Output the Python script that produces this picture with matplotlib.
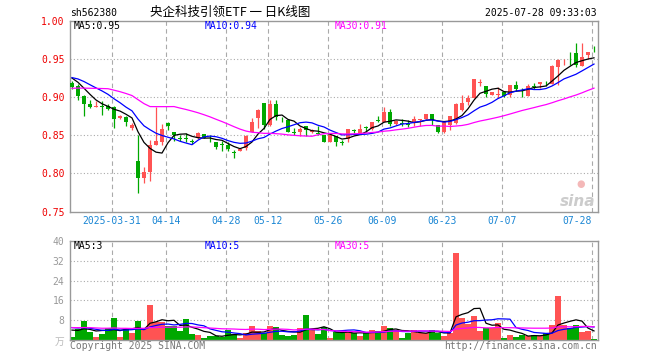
import numpy as np
import matplotlib.pyplot as plt

plt.rcParams['font.family'] = ['DejaVu Sans Mono']

# daily candles, 2025-03-20 .. 2025-07-28 (88 trading days)
opens = [0.919, 0.915, 0.902, 0.891, 0.888, 0.889, 0.889, 0.888, 0.873, 0.874,
         0.860, 0.817, 0.794, 0.802, 0.837, 0.842, 0.866, 0.854, 0.846, 0.846,
         0.843, 0.846, 0.852, 0.847, 0.841, 0.838, 0.838, 0.828, 0.830, 0.834,
         0.854, 0.873, 0.892, 0.864, 0.891, 0.872, 0.870, 0.854, 0.854, 0.863,
         0.855, 0.853, 0.850, 0.842, 0.849, 0.841, 0.845, 0.857, 0.852, 0.861,
         0.859, 0.870, 0.867, 0.881, 0.865, 0.866, 0.865, 0.867, 0.870, 0.871,
         0.878, 0.864, 0.855, 0.864, 0.866, 0.883, 0.894, 0.899, 0.919, 0.915,
         0.903, 0.903, 0.907, 0.903, 0.916, 0.910, 0.902, 0.915, 0.917, 0.918,
         0.917, 0.940, 0.950, 0.947, 0.958, 0.941, 0.956, 0.960]
highs = [0.921, 0.917, 0.903, 0.897, 0.895, 0.895, 0.891, 0.889, 0.877, 0.876,
         0.866, 0.850, 0.809, 0.844, 0.888, 0.865, 0.867, 0.855, 0.850, 0.853,
         0.845, 0.854, 0.852, 0.851, 0.842, 0.843, 0.841, 0.831, 0.832, 0.850,
         0.873, 0.885, 0.893, 0.896, 0.896, 0.874, 0.872, 0.860, 0.861, 0.863,
         0.858, 0.862, 0.850, 0.852, 0.849, 0.844, 0.858, 0.859, 0.865, 0.863,
         0.868, 0.876, 0.888, 0.885, 0.870, 0.871, 0.870, 0.875, 0.871, 0.878,
         0.878, 0.864, 0.867, 0.876, 0.893, 0.903, 0.903, 0.924, 0.924, 0.915,
         0.907, 0.914, 0.907, 0.916, 0.922, 0.912, 0.917, 0.919, 0.920, 0.922,
         0.942, 0.951, 0.951, 0.959, 0.971, 0.971, 0.960, 0.968]
lows = [0.911, 0.896, 0.876, 0.886, 0.888, 0.877, 0.884, 0.860, 0.872, 0.862,
        0.857, 0.774, 0.788, 0.790, 0.837, 0.838, 0.857, 0.843, 0.843, 0.842,
        0.839, 0.845, 0.846, 0.842, 0.832, 0.830, 0.830, 0.820, 0.830, 0.831,
        0.854, 0.860, 0.859, 0.863, 0.870, 0.868, 0.854, 0.851, 0.849, 0.849,
        0.853, 0.851, 0.841, 0.841, 0.836, 0.837, 0.841, 0.853, 0.852, 0.854,
        0.857, 0.867, 0.867, 0.862, 0.864, 0.862, 0.861, 0.862, 0.862, 0.871,
        0.864, 0.853, 0.853, 0.857, 0.865, 0.882, 0.890, 0.899, 0.915, 0.900,
        0.903, 0.899, 0.901, 0.901, 0.908, 0.901, 0.902, 0.911, 0.912, 0.915,
        0.917, 0.916, 0.942, 0.942, 0.940, 0.941, 0.951, 0.959]
closes = [0.913, 0.902, 0.891, 0.888, 0.889, 0.888, 0.885, 0.872, 0.876, 0.868,
          0.864, 0.794, 0.802, 0.837, 0.843, 0.858, 0.862, 0.850, 0.845, 0.845,
          0.842, 0.853, 0.847, 0.846, 0.835, 0.837, 0.832, 0.827, 0.832, 0.849,
          0.867, 0.884, 0.864, 0.891, 0.874, 0.871, 0.855, 0.853, 0.859, 0.857,
          0.857, 0.852, 0.842, 0.850, 0.842, 0.840, 0.858, 0.856, 0.859, 0.860,
          0.868, 0.869, 0.881, 0.865, 0.869, 0.865, 0.864, 0.871, 0.871, 0.878,
          0.870, 0.855, 0.867, 0.875, 0.891, 0.893, 0.899, 0.924, 0.920, 0.904,
          0.907, 0.905, 0.902, 0.916, 0.911, 0.909, 0.915, 0.914, 0.920, 0.917,
          0.941, 0.949, 0.951, 0.946, 0.942, 0.953, 0.960, 0.959]
# volume, 万手
volumes = [1.5, 4.5, 7.7, 3.5, 1.5, 2.5, 4.8, 9.1, 1.5, 4.5,
           3.1, 7.7, 4.8, 14.1, 7.5, 7.2, 5.7, 5.7, 3.7, 8.5,
           2.5, 2.1, 1.1, 1.7, 1.7, 1.5, 4.1, 2.5, 1.1, 3.1,
           5.7, 3.7, 3.1, 5.7, 5.3, 2.1, 1.7, 2.1, 5.1, 10.1,
           4.1, 2.7, 5.2, 1.1, 3.5, 3.1, 3.7, 3.1, 1.7, 3.1,
           4.1, 3.7, 5.7, 5.1, 4.1, 1.1, 3.1, 4.1, 3.1, 2.8,
           4.1, 3.1, 1.7, 3.1, 35.1, 9.1, 6.5, 9.9, 3.7, 5.1,
           5.1, 7.1, 1.1, 2.1, 1.5, 2.1, 1.7, 2.1, 1.7, 3.1,
           6.1, 17.7, 6.1, 5.1, 6.1, 3.5, 3.7, 0.4]

# the 29 sessions before the window, only needed to start the moving averages
prior_closes = [0.893, 0.892, 0.894, 0.893, 0.894, 0.892, 0.930, 0.935, 0.940, 0.945,
                0.955, 0.960, 0.953, 0.845, 0.858, 0.862, 0.847, 0.905, 0.900, 0.904,
                0.920, 0.925, 0.930, 0.930, 0.928, 0.930, 0.930, 0.928, 0.926]
prior_volumes = [5.0, 6.2, 4.8, 5.5, 5.9, 4.6, 5.3, 6.0, 4.9, 5.1,
                 5.6, 4.7, 5.4, 5.8, 4.5, 5.2, 5.0, 5.3, 4.2, 3.0,
                 6.0, 6.3, 6.0, 5.8, 6.4, 5.2, 4.3, 4.8, 4.7]

tick_idx = [7, 16, 26, 33, 43, 52, 62, 72, 87]
tick_labels = ['2025-03-31', '04-14', '04-28', '05-12', '05-26',
               '06-09', '06-23', '07-07', '07-28']

RED = '#ff5353'
GREEN = '#00a800'
GRID = '#aaaaaa'
FRAME = '#999999'
W, H = 660, 360


def moving_avg(vals, prior, n):
    full = np.concatenate([prior, vals])
    out = np.convolve(full, np.ones(n) / n, mode='valid')
    return out[-len(vals):]


def fx(px):
    return px / W


def fy(py):
    return 1 - py / H


o = np.array(opens)
c = np.array(closes)
v = np.array(volumes)
x = np.arange(len(c))
cols = np.where(c >= o, RED, GREEN)

ma_p = [moving_avg(c, prior_closes, n) for n in (5, 10, 30)]
ma_v = [moving_avg(v, prior_volumes, n) for n in (5, 10, 30)]
ma_cols = ['black', '#0000ff', '#ff00ff']

fig = plt.figure(figsize=(6.6, 3.6), dpi=100)
ax = fig.add_axes([fx(70), fy(211.5), fx(597.5) - fx(70), (211.5 - 21.3) / H])
axv = fig.add_axes([fx(70), fy(340.3), fx(597.5) - fx(70), (340.3 - 240.7) / H])

xlim = (-1 / 3, 87 + 3.5 / 6)

# price panel
for lvl in [0.80, 0.85, 0.90, 0.95]:
    ax.axhline(lvl, color=GRID, lw=0.8, ls=(0, (1, 2)), zorder=0)
for t in tick_idx:
    ax.axvline(t - 1 / 3, color=GRID, lw=0.8, ls=(0, (4, 3)), zorder=0)

ax.vlines(x, lows, highs, colors=cols, lw=0.9, zorder=2)
body_h = np.maximum(np.abs(c - o), 0.0011)
ax.bar(x, body_h, bottom=np.minimum(o, c), width=0.78, color=cols, lw=0, zorder=3)
for m, col in zip(ma_p, ma_cols):
    ax.plot(x, m, color=col, lw=0.9, zorder=4)

ax.set_xlim(*xlim)
ax.set_ylim(0.75, 1.00)
ax.set_xticks([])
ax.set_yticks([0.75, 0.80, 0.85, 0.90, 0.95, 1.00])
ax.set_yticklabels(['%.2f' % t for t in [0.75, 0.80, 0.85, 0.90, 0.95, 1.00]],
                   color='#ee0000', fontsize=7)
ax.tick_params(axis='y', length=0, pad=4)

for t, lab in zip(tick_idx, tick_labels):
    ha = 'right' if t == tick_idx[-1] else 'center'
    ax.text(t - 1 / 3, -0.05, lab, transform=ax.get_xaxis_transform(),
            ha=ha, va='center', fontsize=7, color='#1a86d4')

# volume panel
for lvl in [8, 16, 24, 32]:
    axv.axhline(lvl, color=GRID, lw=0.8, ls=(0, (1, 2)), zorder=0)
for t in tick_idx:
    axv.axvline(t - 1 / 3, color=GRID, lw=0.8, ls=(0, (4, 3)), zorder=0)

axv.bar(x, v, width=0.85, color=cols, lw=0, zorder=2)
for m, col in zip(ma_v, ma_cols):
    axv.plot(x, m, color=col, lw=0.9, zorder=4)

axv.set_xlim(*xlim)
axv.set_ylim(0, 40)
axv.set_xticks([])
axv.set_yticks([8, 16, 24, 32, 40])
axv.set_yticklabels(['8', '16', '24', '32', '40'], color='#999999', fontsize=7)
axv.tick_params(axis='y', length=0, pad=4)

for a in (ax, axv):
    for s in a.spines.values():
        s.set_color(FRAME)
        s.set_linewidth(1)

# texts
fig.text(fx(70), fy(13), 'sh562380', fontsize=7, va='center', ha='left')
fig.text(fx(150), fy(12), '央企科技引领ETF 一 日K线图', fontsize=9, va='center', ha='left',
         family=['Noto Sans CJK SC', 'DejaVu Sans'])
fig.text(fx(597), fy(13), '2025-07-28 09:33:03', fontsize=7, va='center', ha='right')

pos = [74, 205, 335]
names = ['MA5', 'MA10', 'MA30']
for px, name, m, col in zip(pos, names, ma_p, ma_cols):
    fig.text(fx(px), fy(26), '%s:%.2f' % (name, m[-1]), fontsize=7, color=col, va='center')
for px, name, m, col in zip(pos, names, ma_v, ma_cols):
    fig.text(fx(px), fy(246), '%s:%d' % (name, int(m[-1])), fontsize=7, color=col, va='center')

fig.text(fx(64), fy(342), '万', fontsize=7, color='#bbbbbb', va='center', ha='right',
         family=['Noto Sans CJK SC', 'DejaVu Sans'])
fig.text(fx(70), fy(346), 'Copyright 2025 SINA.COM', fontsize=7, color='#777777', va='center')
fig.text(fx(597), fy(346), 'http://finance.sina.com.cn', fontsize=7, color='#777777',
         va='center', ha='right')

# sina watermark
fig.text(fx(581), fy(184), '●', fontsize=7, color='#f4b8b8', ha='center', va='center',
         family=['DejaVu Sans'])
fig.text(fx(595), fy(202), 'sina', fontsize=11, color='#cccccc', ha='right', va='center',
         style='italic', weight='bold', family=['DejaVu Sans'])

fig.savefig('out.png', dpi=100)
